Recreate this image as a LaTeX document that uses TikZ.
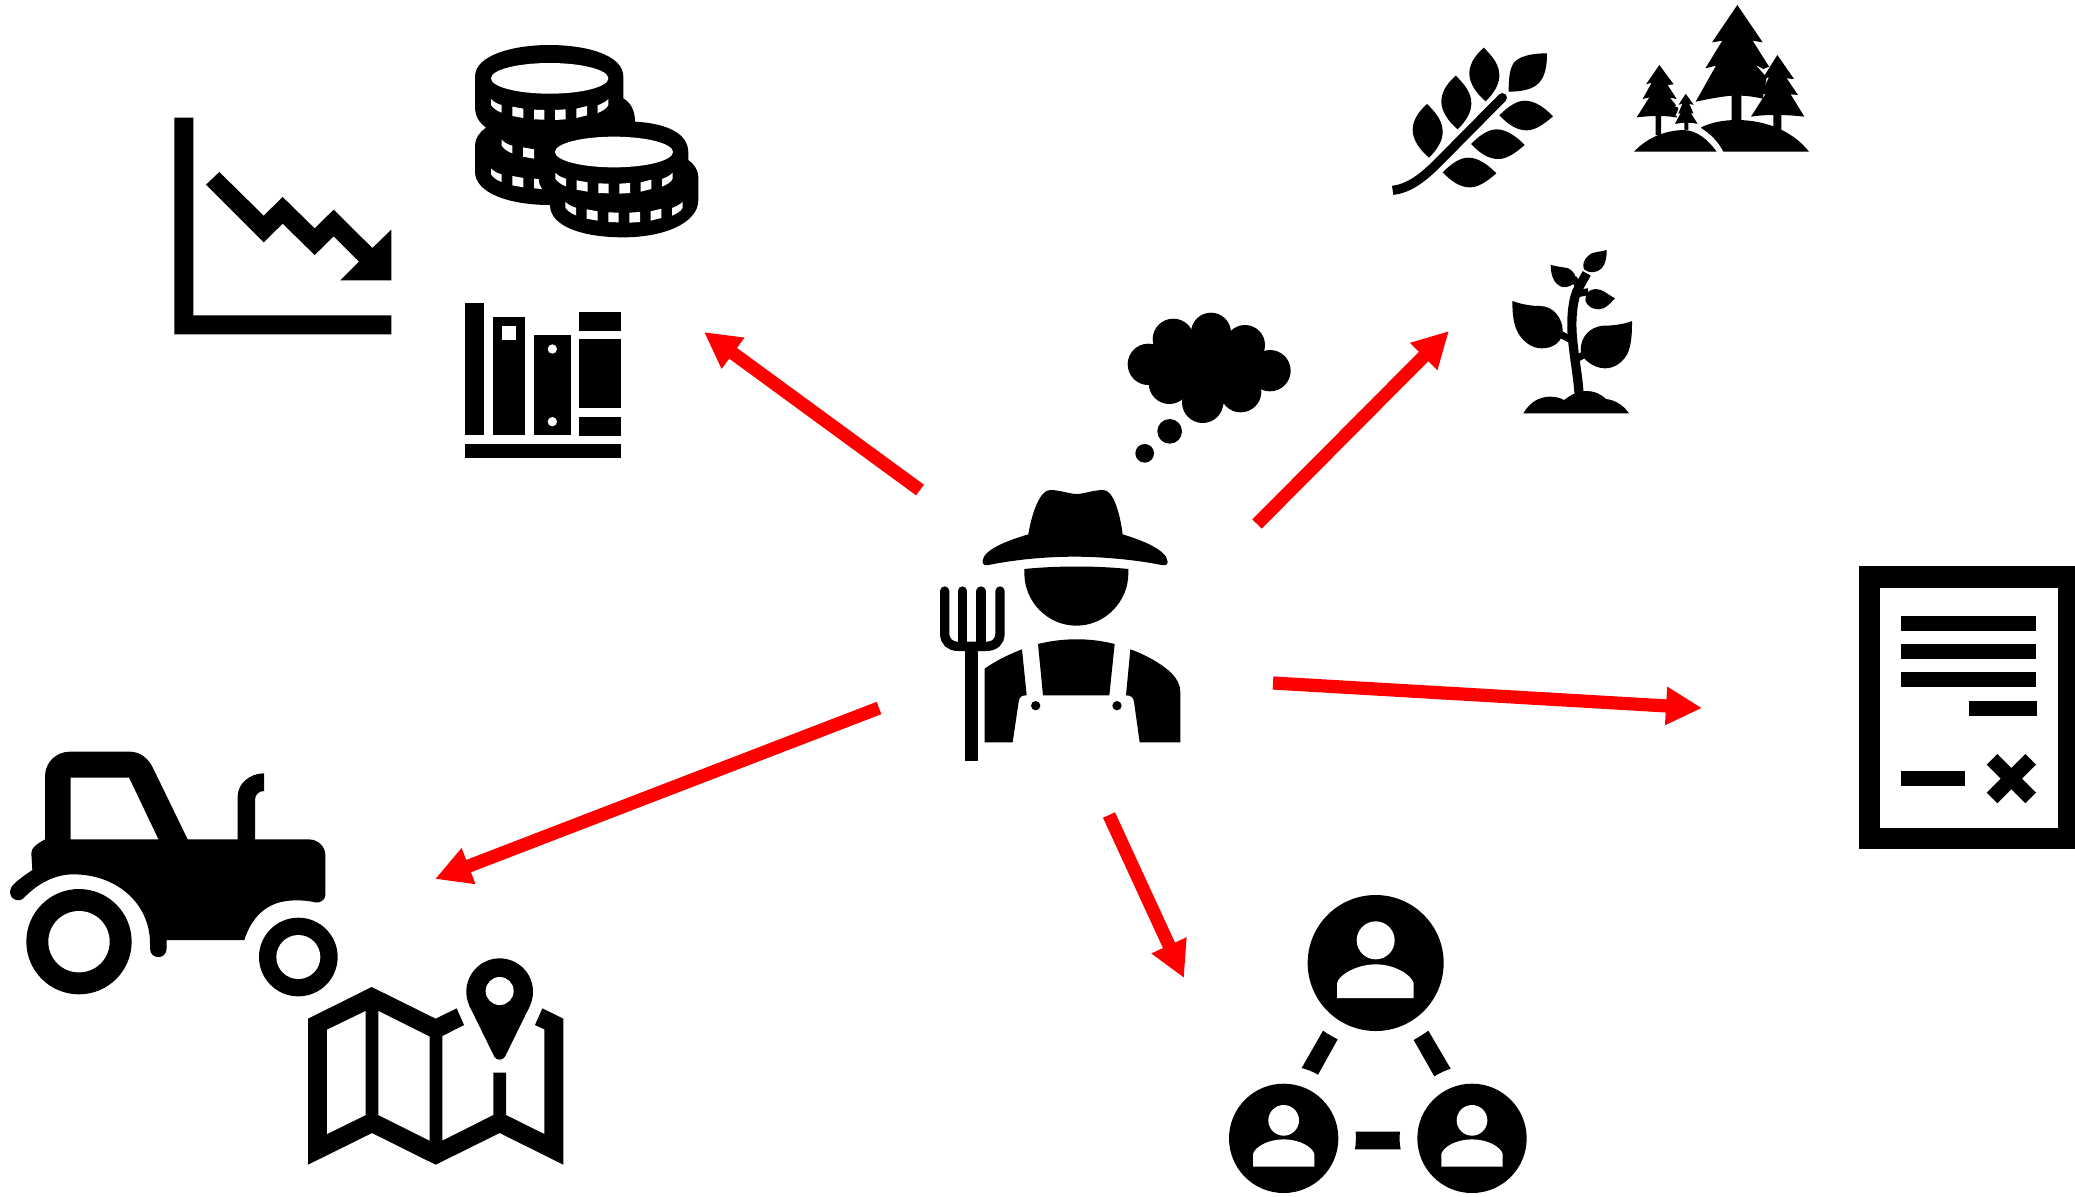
\documentclass[tikz,border=0pt]{standalone}
\usetikzlibrary{arrows.meta}
\tikzset{
  zoomed/.style 2 args={shift={(#1,#2)},scale=1/3},
  ink/.style={fill=black,draw=none},
  gap/.style={fill=white,draw=none},
  redarrow/.style={draw=red,line width=6.6pt,-{Triangle[length=18pt,width=18pt]}},
  stalk/.style={draw=black,fill=none}
}
\newcommand{\coinsegA}{\fill[gap] (93,207) .. controls (100,215) and (112,222) .. (125,225) -- (125,248) .. controls (110,243) and (98,233) .. (93,225) -- cycle;}
\newcommand{\coinsegB}{\fill[gap] (157,230) -- (190,236) -- (190,264) -- (157,258) -- cycle;}
\newcommand{\coinsegC}{\fill[gap] (222,239) -- (253,240) -- (253,269) -- (222,268) -- cycle;}
\newcommand{\coinsegD}{\fill[gap] (285,240) -- (317,238) -- (317,268) -- (285,270) -- cycle;}
\newcommand{\coinsegE}{\fill[gap] (349,236) -- (381,228) -- (381,256) -- (349,264) -- cycle;}
\newcommand{\coinsegF}{\fill[gap] (445,207) .. controls (438,215) and (428,220) .. (413,226) -- (413,249) .. controls (430,242) and (440,235) .. (445,225) -- cycle;}
\newcommand{\coinband}{\coinsegA\coinsegB\coinsegC\coinsegD\coinsegE\coinsegF}
\newcommand{\wheatleafA}{\fill[ink] (141,312) .. controls (110,340) and (98,365) .. (98,390) .. controls (98,420) and (120,450) .. (147,473) .. controls (175,445) and (188,420) .. (188,395) .. controls (188,365) and (170,340) .. (141,312) -- cycle;}
\newcommand{\wheatleafB}{\fill[ink] (188,517) .. controls (215,490) and (240,473) .. (265,473) .. controls (295,473) and (325,495) .. (349,520) .. controls (320,545) and (295,562) .. (270,562) .. controls (240,562) and (215,545) .. (188,517) -- cycle;}
\begin{document}
\begin{tikzpicture}[x=0.5pt,y=-0.5pt]
\fill[white] (0,0) rectangle (2075,1196);
\useasboundingbox (0,0) rectangle (2075,1196);

% ---------- arrows
\coordinate (a1s) at (920,490);  \coordinate (a1e) at (704,332);
\coordinate (a2s) at (1257,524); \coordinate (a2e) at (1449,331);
\coordinate (a3s) at (1273,683); \coordinate (a3e) at (1702,708);
\coordinate (a4s) at (1109,815); \coordinate (a4e) at (1184,978);
\coordinate (a5s) at (879,708);  \coordinate (a5e) at (435,879);
\draw[redarrow] (a1s) -- (a1e);
\draw[redarrow] (a2s) -- (a2e);
\draw[redarrow] (a3s) -- (a3e);
\draw[redarrow] (a4s) -- (a4e);
\draw[redarrow] (a5s) -- (a5e);

% ---------- farmer
\begin{scope}[zoomed={900}{470}]
\fill[ink] (385,193) .. controls (395,130) and (420,60) .. (450,60) .. controls (480,60) and (510,72) .. (530,72) .. controls (550,72) and (580,60) .. (610,60) .. controls (640,60) and (660,130) .. (668,193) .. controls (730,212) and (800,240) .. (803,275) .. controls (803,285) and (795,287) .. (785,285) .. controls (700,268) and (600,260) .. (525,260) .. controls (440,260) and (350,268) .. (265,285) .. controls (255,287) and (247,285) .. (248,272) .. controls (250,240) and (320,212) .. (385,193) -- cycle;
\fill[ink] (373,297) .. controls (470,287) and (590,287) .. (685,297) -- (685,310) .. controls (685,395) and (615,467) .. (529,467) .. controls (443,467) and (373,395) .. (373,310) -- cycle;
\fill[ink] (414,522) .. controls (490,503) and (570,503) .. (644,522) -- (628,676) -- (429,676) -- cycle;
\fill[ink] (254,596) .. controls (290,570) and (330,552) .. (366,538) -- (380,676) .. controls (365,676) and (358,680) .. (356,695) -- (338,817) -- (254,817) -- cycle;
\fill[ink] (691,538) .. controls (740,555) and (790,585) .. (815,610) .. controls (830,625) and (841,645) .. (841,665) -- (841,817) -- (719,817) -- (702,695) .. controls (700,682) and (693,676) .. (678,676) -- cycle;
\fill[ink] (407,707) circle[radius=14];
\fill[ink] (651,707) circle[radius=14];
\draw[stalk,line width=4.67pt,line cap=round] (134,363) -- (134,490) .. controls (134,515) and (150,529) .. (175,529) -- (258,529) .. controls (284,529) and (300,515) .. (300,490) -- (300,363);
\draw[stalk,line width=4.67pt,line cap=round] (187,363) -- (187,525);
\draw[stalk,line width=4.67pt,line cap=round] (243,363) -- (243,525);
\fill[ink] (195,520) rectangle (234,872);
\end{scope}

% ---------- coins
\begin{scope}[zoomed={460}{30}]
\fill[ink] (45,140) .. controls (45,75) and (160,45) .. (268,45) .. controls (380,45) and (490,75) .. (490,140) -- (490,205) .. controls (515,220) and (525,245) .. (525,275) .. controls (620,280) and (685,310) .. (685,368) -- (685,390) .. controls (700,400) and (715,420) .. (715,440) -- (715,510) .. controls (715,580) and (610,622) .. (490,622) .. controls (370,622) and (270,590) .. (270,525) .. controls (150,525) and (45,490) .. (45,425) -- (45,345) .. controls (45,325) and (60,305) .. (78,293) .. controls (60,280) and (45,260) .. (45,230) -- cycle;
\fill[gap] (269,145) ellipse[x radius=176,y radius=46];
\fill[gap] (462,366) ellipse[x radius=177,y radius=46];
\coinband
\begin{scope}[shift={(193,221)}]\coinband\end{scope}
\begin{scope}[shift={(223,308)}]\coinband\end{scope}
\begin{scope}[shift={(0,208)}]\coinsegA\coinsegB\end{scope}
\fill[gap] (222,446) -- (236,447) .. controls (237,460) and (240,470) .. (246,477) -- (222,475) -- cycle;
\begin{scope}[shift={(32,122)}]\coinsegA\coinsegB\end{scope}
\end{scope}

% ---------- chart and books
\begin{scope}[zoomed={160}{100}]
\fill[ink] (43,53) -- (100,53) -- (100,646) -- (694,646) -- (694,703) -- (43,703) -- cycle;
\fill[ink] (178,216) -- (311,347) -- (368,291) -- (464,385) -- (521,329) -- (637,444) -- (694,389) -- (694,541) -- (541,541) -- (597,485) -- (521,409) -- (464,465) -- (368,371) -- (311,427) -- (138,254) -- cycle;
\fill[ink] (915,609) rectangle (972,1005);
\fill[ink] (999,651) rectangle (1095,1005);
\fill[gap] (1026,678) rectangle (1068,720);
\fill[ink] (1122,705) rectangle (1232,1005);
\fill[gap] (1177,747) circle[radius=14];
\fill[gap] (1177,965) circle[radius=14];
\fill[ink] (1257,636) rectangle (1383,693);
\fill[ink] (1257,717) rectangle (1383,924);
\fill[ink] (1257,951) rectangle (1383,1008);
\fill[ink] (915,1032) rectangle (1383,1074);
\end{scope}

% ---------- thought cloud
\begin{scope}[zoomed={1110}{300}]
\fill[ink] (115,193) circle[radius=62];
\fill[ink] (190,118) circle[radius=62];
\fill[ink] (303,98) circle[radius=60];
\fill[ink] (405,135) circle[radius=60];
\fill[ink] (480,212) circle[radius=62];
\fill[ink] (392,275) circle[radius=62];
\fill[ink] (278,307) circle[radius=62];
\fill[ink] (178,250) circle[radius=62];
\fill[ink] (300,200) circle[radius=120];
\fill[ink] (190,190) circle[radius=70];
\fill[ink] (410,210) circle[radius=70];
\fill[ink] (179,394) circle[radius=37];
\fill[ink] (104,460) circle[radius=28];
\end{scope}

% ---------- contract
\begin{scope}[zoomed={1850}{550}]
\fill[ink] (27,49) rectangle (675,898);
\fill[gap] (91,113) rectangle (623,835);
\fill[ink] (153,198) rectangle (558,243);
\fill[ink] (153,282) rectangle (558,327);
\fill[ink] (153,366) rectangle (558,411);
\fill[ink] (357,453) rectangle (561,498);
\fill[ink] (153,663) rectangle (345,708);
\fill[ink] (442,612) -- (484,654) -- (526,612) -- (558,644) -- (516,686) -- (558,728) -- (526,760) -- (484,718) -- (442,760) -- (410,728) -- (452,686) -- (410,644) -- cycle;
\end{scope}

% ---------- tractor
\begin{scope}[zoomed={0}{740}]
\fill[ink] (135,298) -- (135,110) .. controls (135,65) and (170,35) .. (210,35) -- (390,35) .. controls (420,35) and (445,55) .. (458,82) -- (563,298) -- (713,298) -- (713,170) .. controls (713,130) and (750,100) .. (792,100) -- (792,153) .. controls (775,153) and (765,165) .. (765,180) -- (765,298) -- (925,298) .. controls (955,298) and (976,320) .. (976,345) -- (976,465) .. controls (976,480) and (960,490) .. (945,487) .. controls (920,480) and (880,480) .. (860,483) .. controls (800,490) and (755,530) .. (733,600) -- (500,600) -- (500,625) .. controls (500,660) and (450,660) .. (450,625) -- (450,610) .. controls (450,490) and (350,403) .. (220,403) .. controls (170,403) and (120,425) .. (75,470) .. controls (60,490) and (30,480) .. (30,455) .. controls (30,440) and (45,425) .. (97,390) -- (94,340) .. controls (94,325) and (105,315) .. (135,298) -- cycle;
\fill[gap] (212,113) -- (387,113) -- (475,298) -- (212,298) -- cycle;
\fill[ink] (237,605) circle[radius=158];
\fill[gap] (237,605) circle[radius=92];
\fill[ink] (895,651) circle[radius=118];
\fill[gap] (895,651) circle[radius=66];
\end{scope}

% ---------- wheat and trees
\begin{scope}[zoomed={1380}{0}]
\draw[stalk,line width=4.6pt] (38,571) .. controls (90,565) and (130,530) .. (165,497) -- (367,293);
\fill[ink] (367,293) circle[radius=13.8];
\wheatleafA
\begin{scope}[shift={(86,-85)}]\wheatleafA\end{scope}
\begin{scope}[shift={(170,-169)}]\wheatleafA\end{scope}
\wheatleafB
\begin{scope}[shift={(85,-85)}]\wheatleafB\end{scope}
\begin{scope}[shift={(170,-171)}]\wheatleafB\end{scope}
\fill[ink] (501,160) .. controls (450,160) and (415,170) .. (400,190) .. controls (388,210) and (386,240) .. (386,275) .. controls (420,275) and (450,270) .. (470,255) .. controls (495,235) and (501,200) .. (501,160) -- cycle;
% big tree
\fill[ink] (1072,15) -- (996,127) -- (1027,122) -- (976,205) -- (1008,197) -- (947,305) .. controls (980,298) and (1020,290) .. (1055,287) -- (1055,365) -- (1084,365) -- (1084,287) .. controls (1110,288) and (1130,292) .. (1148,296) -- (1160,232) -- (1127,195) -- (1150,207) -- (1167,200) -- (1118,122) -- (1148,127) -- cycle;
% right tree
\fill[ink] (1192,165) -- (1147,237) -- (1167,232) -- (1140,285) -- (1157,281) -- (1113,350) .. controls (1140,346) and (1160,345) .. (1180,345) -- (1180,395) -- (1204,395) -- (1204,345) .. controls (1230,346) and (1250,347) .. (1273,350) -- (1232,283) -- (1254,285) -- (1220,235) -- (1242,237) -- cycle;
% left tree
\fill[ink] (838,195) -- (798,253) -- (815,248) -- (788,297) -- (808,292) -- (770,352) .. controls (790,350) and (810,348) .. (827,348) -- (827,405) -- (843,405) -- (843,348) .. controls (860,348) and (875,350) .. (893,353) -- (895,325) -- (870,293) -- (890,297) -- (863,255) -- (881,253) -- cycle;
% small tree
\filldraw[fill=black,draw=white,line width=0.7pt] (917,277) -- (890,318) -- (903,315) -- (890,345) -- (897,343) -- (880,375) .. controls (895,372) and (905,371) .. (911,371) -- (911,392) -- (927,392) -- (927,371) .. controls (935,371) and (945,372) .. (958,375) -- (938,343) -- (945,345) -- (932,315) -- (947,318) -- cycle;
% hills
\fill[ink] (1030,455) .. controls (1015,425) and (990,400) .. (962,383) .. controls (990,368) and (1030,360) .. (1070,360) .. controls (1160,360) and (1240,395) .. (1287,455) -- cycle;
\fill[ink] (762,455) .. controls (800,415) and (850,392) .. (910,390) .. controls (950,390) and (985,420) .. (1010,455) -- cycle;
\end{scope}

% ---------- sprout
\begin{scope}[zoomed={1490}{230}]
\draw[stalk,line width=4.6pt] (267,490) .. controls (264,440) and (252,380) .. (247,320) .. controls (242,260) and (250,200) .. (265,175) -- (290,130);
\draw[stalk,line width=3.5pt] (210,312) -- (240,328);
\draw[stalk,line width=3.5pt] (262,385) -- (285,372);
\draw[stalk,line width=3.5pt] (250,145) -- (268,170);
\draw[stalk,line width=3.5pt] (258,192) -- (295,185);
\fill[ink] (100,550) .. controls (120,515) and (150,500) .. (180,500) .. controls (195,500) and (210,503) .. (222,510) .. controls (240,497) and (260,483) .. (290,483) .. controls (310,483) and (330,490) .. (348,507) .. controls (375,510) and (400,525) .. (417,550) -- cycle;
\fill[ink] (67,213) .. controls (100,225) and (130,228) .. (150,228) .. controls (190,228) and (218,265) .. (218,302) .. controls (218,335) and (190,355) .. (155,355) .. controls (125,355) and (100,335) .. (85,310) .. controls (70,285) and (67,250) .. (67,213) -- cycle;
\fill[ink] (426,273) .. controls (395,285) and (360,287) .. (340,287) .. controls (300,290) and (272,320) .. (272,360) .. controls (272,385) and (310,415) .. (345,415) .. controls (375,415) and (400,395) .. (413,370) .. controls (425,340) and (426,310) .. (426,273) -- cycle;
\fill[ink] (350,60) .. controls (325,67) and (305,65) .. (295,77) .. controls (280,90) and (277,105) .. (282,118) .. controls (295,130) and (320,130) .. (335,115) .. controls (348,100) and (350,80) .. (350,60) -- cycle;
\fill[ink] (182,104) .. controls (195,110) and (215,110) .. (235,115) .. controls (250,122) and (260,140) .. (258,150) .. controls (250,170) and (220,178) .. (205,165) .. controls (185,150) and (182,125) .. (182,104) -- cycle;
\fill[ink] (375,205) .. controls (355,195) and (335,175) .. (315,177) .. controls (295,178) and (285,195) .. (286,212) .. controls (295,235) and (320,243) .. (340,235) .. controls (355,228) and (365,215) .. (375,205) -- cycle;
\end{scope}

% ---------- team
\begin{scope}[zoomed={1210}{880}]
\fill[ink] (497,249) circle[radius=204];
\fill[gap] (497,181) circle[radius=57];
\fill[gap] (381,354) -- (381,310) .. controls (385,285) and (440,253) .. (497,253) .. controls (555,253) and (605,285) .. (611,310) -- (611,354) -- cycle;
\fill[ink] (221,775) circle[radius=164];
\fill[gap] (221,721) circle[radius=46];
\fill[gap] (129,860) -- (129,822) .. controls (135,800) and (175,778) .. (221,778) .. controls (267,778) and (307,800) .. (313,822) -- (313,860) -- cycle;
\fill[ink] (786,775) circle[radius=164];
\fill[gap] (786,721) circle[radius=46];
\fill[gap] (694,860) -- (694,822) .. controls (700,800) and (740,778) .. (786,778) .. controls (832,778) and (872,800) .. (878,822) -- (878,860) -- cycle;
\fill[ink] (339,452) .. controls (355,463) and (368,470) .. (383,478) -- (324,584) .. controls (310,575) and (290,568) .. (275,564) -- cycle;
\fill[ink] (655,452) .. controls (640,463) and (625,472) .. (611,480) -- (673,589) .. controls (690,578) and (705,572) .. (722,566) -- cycle;
\fill[ink] (437,755) -- (570,755) .. controls (568,770) and (568,790) .. (572,808) -- (435,808) .. controls (438,790) and (438,770) .. (437,755) -- cycle;
\end{scope}

% ---------- map
\begin{scope}[zoomed={290}{940}]
\fill[ink] (54,236) -- (245,141) -- (437,236) -- (500,205) -- (522,255) -- (457,288) -- (457,602) -- (610,525) -- (610,398) -- (648,398) -- (648,525) -- (763,582) -- (763,268) -- (735,255) -- (757,205) -- (820,236) -- (820,674) -- (629,579) -- (437,674) -- (246,579) -- (54,674) -- cycle;
\fill[gap] (111,269) -- (227,213) -- (227,525) -- (111,582) -- cycle;
\fill[gap] (265,213) -- (419,290) -- (419,602) -- (265,525) -- cycle;
\fill[ink] (629,155) circle[radius=100];
\fill[ink] (538,197) -- (720,197) -- (645,350) .. controls (638,362) and (620,362) .. (613,350) -- cycle;
\fill[gap] (629,153) circle[radius=42];
\end{scope}
\end{tikzpicture}
\end{document}
